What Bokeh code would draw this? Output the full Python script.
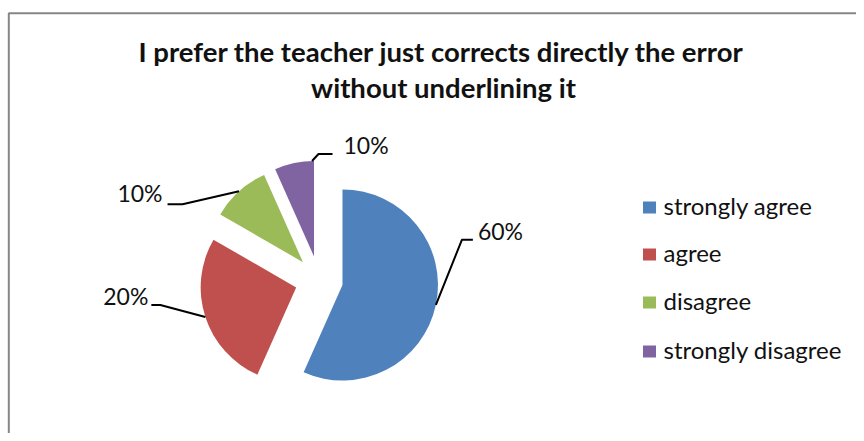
import numpy as np
from bokeh.plotting import figure
from bokeh.models import Range1d, ColumnDataSource
from bokeh.core.properties import value
from bokeh.embed import file_html
from bokeh.resources import INLINE

# ---- data ----
categories = ["strongly agree", "agree", "disagree", "strongly disagree"]
counts = [17, 8, 3, 2]
pct_labels = ["60%", "20%", "10%", "10%"]
colors = ["#4F81BD", "#C0504D", "#9BBB59", "#8064A2"]
title_lines = ["I prefer the teacher just corrects directly the error",
               "without underlining it"]

# ---- layout (screen pixels; y measured downward from top of picture) ----
W, H = 856, 433
FONT = "Lato"
cx_s, cy_s = 318.5, 279.5      # pie centre (screen)
R = 95.5                        # radius
EXPLODE = 24.0                  # explosion distance

def sy(y):  # screen y -> data y
    return 433.0 - y

p = figure(width=W, height=H, x_range=Range1d(0, 856), y_range=Range1d(0, 433),
           output_backend="svg", toolbar_location=None,
           x_axis_type=None, y_axis_type=None,
           min_border=0, min_border_left=0, min_border_right=0,
           min_border_top=0, min_border_bottom=0)
p.grid.visible = False
p.outline_line_color = None
p.background_fill_color = "white"
p.border_fill_color = "white"

# chart area border (top and left visible)
p.line([8.3, 8.3, 870], [sy(450), sy(12.7), sy(12.7)], line_color="#868686", line_width=2)

# ---- pie wedges ----
vals = np.array(counts, dtype=float)
frac = vals / vals.sum()
ends = np.cumsum(frac) * 360.0          # clockwise-from-top degrees
starts = ends - frac * 360.0
mids = (starts + ends) / 2.0

xs, ys, sa, ea = [], [], [], []
for s, e, m in zip(starts, ends, mids):
    t = np.radians(m)
    xs.append(cx_s + EXPLODE * np.sin(t))
    ys.append(sy(cy_s) + EXPLODE * np.cos(t))
    sa.append(np.radians(90.0 - e))
    ea.append(np.radians(90.0 - s))
src = ColumnDataSource(dict(x=xs, y=ys, start=sa, end=ea, color=colors))
p.wedge(x="x", y="y", radius=R, start_angle="start", end_angle="end",
        fill_color="color", line_color=None, source=src)

# ---- leader lines and percentage labels ----
leader_frac = [0.5, 0.5, 0.5, 0.95]            # where along the arc the leader starts
elbow = [(26, -65), (-45, -12), (-56.5, 13), (6.5, -7)]
tail = [(37, -65), (-54, -12), (-71.5, 13), (20.5, -7)]
lab_off = [(5, -9), (-3, -9), (-5, -11), (11, -9)]
lab_align = ["left", "right", "right", "left"]

for i in range(4):
    ang = np.radians(starts[i] + leader_frac[i] * (ends[i] - starts[i]))
    x0 = xs[i] + R * np.sin(ang)
    y0 = ys[i] + R * np.cos(ang)
    ex, ey = x0 + elbow[i][0], y0 - elbow[i][1]
    tx, ty = x0 + tail[i][0], y0 - tail[i][1]
    p.line([x0, ex, tx], [y0, ey, ty], line_color="black", line_width=2)
    p.text(x=[tx + lab_off[i][0]], y=[ty - lab_off[i][1]], text=[pct_labels[i]],
           text_font=value(FONT), text_font_size="23px", text_color="#111111",
           text_align=lab_align[i], text_baseline="middle")

# ---- title ----
p.text(x=[441, 443], y=[sy(51), sy(87)], text=title_lines,
       text_font=value(FONT), text_font_size="27.5px", text_font_style="bold",
       text_color="#111111", text_align="center", text_baseline="middle")

# ---- legend ----
leg_y = [sy(207), sy(254), sy(302), sy(351)]
p.rect(x=[649] * 4, y=leg_y, width=13, height=12, fill_color=colors, line_color=None)
p.text(x=[663] * 4, y=[v + 2 for v in leg_y], text=categories,
       text_font=value(FONT), text_font_size="24px", text_color="#111111",
       text_align="left", text_baseline="middle")

open("out.html", "w").write(file_html(p, INLINE))
